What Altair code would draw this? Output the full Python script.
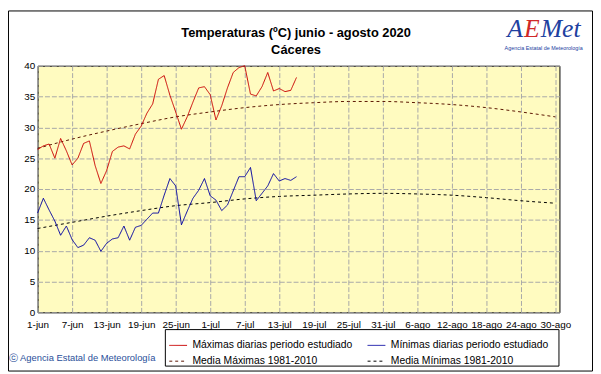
import altair as alt
import pandas as pd

# ---------------- data ----------------
x_labels = ["1-jun", "7-jun", "13-jun", "19-jun", "25-jun", "1-jul", "7-jul",
            "13-jul", "19-jul", "25-jul", "31-jul", "6-ago", "12-ago", "18-ago",
            "24-ago", "30-ago"]
tick_days = [0, 6, 12, 18, 24, 30, 36, 42, 48, 54, 60, 66, 72, 78, 84, 90]
y_ticks = [0, 5, 10, 15, 20, 25, 30, 35, 40]

# daily values, 1-jun .. 16-jul (day index 0..45)
max_diarias = [26.4, 27.0, 27.3, 25.0, 28.2, 26.2, 23.9, 25.0, 27.4, 27.8,
               23.8, 20.9, 23.0, 26.1, 26.8, 27.0, 26.5, 28.9, 30.2, 32.3,
               33.8, 37.8, 38.4, 35.2, 32.5, 29.7, 31.7, 34.1, 36.4, 36.6,
               35.3, 31.2, 33.5, 36.4, 38.9, 39.7, 40.0, 35.4, 35.1, 36.6,
               38.9, 35.9, 36.3, 35.8, 36.0, 38.1]
min_diarias = [16.1, 18.5, 16.6, 14.8, 12.5, 14.0, 11.8, 10.5, 10.9, 12.1,
               11.7, 9.9, 11.2, 11.9, 12.1, 14.0, 11.7, 13.8, 14.1, 15.1,
               16.1, 16.1, 19.0, 21.7, 20.5, 14.2, 16.4, 18.5, 19.8, 21.7,
               18.9, 18.2, 16.5, 17.4, 19.7, 22.0, 22.0, 23.5, 18.1, 19.3,
               20.5, 22.5, 21.3, 21.7, 21.4, 22.0]
# 1981-2010 normals, read every 6 days (1-jun .. 30-ago)
media_max = [26.6, 28.1, 29.4, 30.6, 31.7, 32.5, 33.2, 33.7, 34.0, 34.2,
             34.2, 34.0, 33.7, 33.2, 32.5, 31.7]
media_min = [13.6, 14.6, 15.6, 16.5, 17.3, 17.8, 18.4, 18.8, 19.0, 19.2,
             19.3, 19.2, 19.0, 18.6, 18.1, 17.7]

s_max = "Máximas diarias periodo estudiado"
s_min = "Mínimas diarias periodo estudiado"
s_mmax = "Media Máximas 1981-2010"
s_mmin = "Media Mínimas 1981-2010"
# legend fills column by column: col 1 = Máx / Media Máx, col 2 = Mín / Media Mín
series = [s_max, s_mmax, s_min, s_mmin]
colors = ["#c80000", "#5a1400", "#0000a0", "#000000"]
dashes = [[1, 0], [3, 3], [1, 0], [3, 3]]

days = list(range(len(max_diarias)))
daily = pd.concat([
    pd.DataFrame({"dia": days, "temp": max_diarias, "serie": s_max}),
    pd.DataFrame({"dia": days, "temp": min_diarias, "serie": s_min}),
])
normal = pd.concat([
    pd.DataFrame({"dia": tick_days, "temp": media_max, "serie": s_mmax}),
    pd.DataFrame({"dia": tick_days, "temp": media_min, "serie": s_mmin}),
])

W, H = 529, 250
label_expr = "[" + ",".join("'%s'" % s for s in x_labels) + "][round(datum.value/6)]"

x_enc = alt.X("dia:Q", scale=alt.Scale(domain=[0, 90.7], nice=False, zero=False),
              axis=alt.Axis(values=tick_days, labelExpr=label_expr, title=None,
                            labelOverlap=False, labelFlush=False, labelPadding=7,
                            ticks=False, domain=False, labelFontSize=10))
y_enc = alt.Y("temp:Q", scale=alt.Scale(domain=[0, 40], nice=False),
              axis=alt.Axis(values=y_ticks, title=None, ticks=False, domain=False,
                            labelPadding=3, labelFontSize=10))

leg = dict(title=None, orient="none", legendX=133, legendY=274, columns=2,
           symbolType="stroke", symbolSize=324, symbolStrokeWidth=1,
           labelFontSize=10.5, labelOffset=5, columnPadding=12, rowPadding=1,
           labelFont="Liberation Sans", padding=0, labelLimit=400, direction="vertical")
color_enc = alt.Color("serie:N", scale=alt.Scale(domain=series, range=colors),
                      legend=alt.Legend(**leg))
dash_enc = alt.StrokeDash("serie:N", scale=alt.Scale(domain=series, range=dashes),
                          legend=alt.Legend(**leg))

lines_daily = alt.Chart(daily).mark_line(strokeWidth=1).encode(
    x=x_enc, y=y_enc, color=color_enc, strokeDash=dash_enc, detail="serie:N")
lines_normal = alt.Chart(normal).mark_line(strokeWidth=1, interpolate="monotone").encode(
    x=x_enc, y=y_enc, color=color_enc, strokeDash=dash_enc, detail="serie:N")

one = pd.DataFrame({"k": [0]})
base = alt.Chart(one)

title1 = base.mark_text(text="Temperaturas (ºC) junio - agosto 2020", font="Liberation Sans",
                        fontSize=13, fontWeight="bold", align="center",
                        baseline="alphabetic", color="black").encode(
    x=alt.value(262), y=alt.value(-29))
title2 = base.mark_text(text="Cáceres", font="Liberation Sans", fontSize=13,
                        fontWeight="bold", align="center", baseline="alphabetic",
                        color="black").encode(x=alt.value(262), y=alt.value(-12))

logo_a = base.mark_text(text="A", font="Liberation Serif", fontSize=26, fontStyle="italic",
                        align="left", baseline="alphabetic", color="#2040a0").encode(
    x=alt.value(476), y=alt.value(-29))
logo_e = base.mark_text(text="E", font="Liberation Serif", fontSize=26, fontStyle="italic",
                        align="left", baseline="alphabetic", color="#d02828").encode(
    x=alt.value(493), y=alt.value(-29))
logo_m = base.mark_text(text="Met", font="Liberation Serif", fontSize=26, fontStyle="italic",
                        align="left", baseline="alphabetic", color="#2040a0").encode(
    x=alt.value(510), y=alt.value(-29))
logo_t = base.mark_text(text="Agencia Estatal de Meteorología", font="Liberation Sans",
                        fontSize=5.5, align="center", baseline="alphabetic",
                        color="#2040a0").encode(x=alt.value(513), y=alt.value(-16))

copy = base.mark_text(text="ⓒ Agencia Estatal de Meteorología", font="Liberation Sans",
                      fontSize=9.5, align="left", baseline="middle",
                      color="#2a4f9a").encode(x=alt.value(-29), y=alt.value(296))

legend_box = base.mark_rect(fillOpacity=0, stroke="black", strokeWidth=1).encode(
    x=alt.value(129.5), x2=alt.value(528.5), y=alt.value(267.5), y2=alt.value(304.5))
frame = base.mark_rect(fillOpacity=0, stroke="black", strokeWidth=1).encode(
    x=alt.value(-29.5), x2=alt.value(562.5), y=alt.value(-55.5), y2=alt.value(309.5))

chart = alt.layer(
    lines_normal, lines_daily, title1, title2, logo_a, logo_e, logo_m, logo_t,
    copy, legend_box, frame
).resolve_scale(color="shared", strokeDash="shared").properties(
    width=W, height=H,
    autosize=alt.AutoSizeParams(type="none"),
    padding={"left": 30, "top": 56, "right": 34, "bottom": 60},
    background="white",
).configure_view(
    fill="#fffbc0", stroke="black", strokeWidth=1
).configure_axis(
    labelFont="Liberation Sans", labelColor="black", gridColor="#a8a8a8",
    gridDash=[5, 2], gridWidth=1, gridOpacity=1
)

chart.save("out.html", embed_options={"renderer": "svg", "actions": False})
